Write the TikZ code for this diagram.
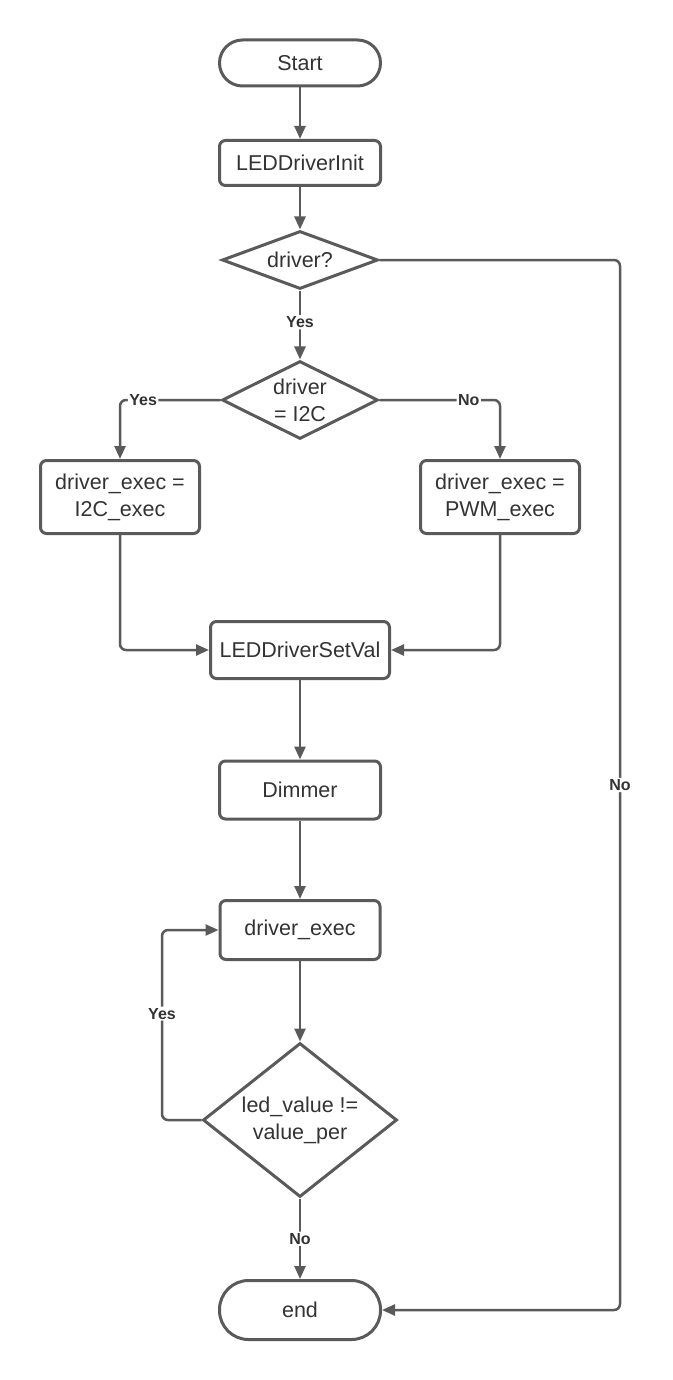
\documentclass[tikz,border=0pt]{standalone}
\usepackage{fontspec}
\setmainfont{Liberation Sans}
\usepackage{tikz}
\usetikzlibrary{calc,positioning,shapes,arrows.meta}
\definecolor{lineclr}{HTML}{5A5A5A}
\definecolor{txtclr}{HTML}{333333}

\begin{document}
\begin{tikzpicture}[x=1pt, y=-1pt,
  term/.style={draw=lineclr, line width=3pt, rounded corners=23pt, text=txtclr, minimum width=161pt, minimum height=46pt, font=\fontsize{21.5}{27}\selectfont},
  blk/.style={draw=lineclr, line width=3pt, rounded corners=6pt, text=txtclr, align=center, font=\fontsize{21.5}{27}\selectfont},
  dec/.style={draw=lineclr, line width=3pt, diamond, inner sep=0pt, text=txtclr, align=center, font=\fontsize{21.5}{27}\selectfont},
  arr/.style={draw=lineclr, line width=2.5pt, rounded corners=6pt, -{Triangle[length=13pt, width=11pt]}},
  lbl/.style={inner sep=1.5pt, fill=white, text=txtclr, font=\fontsize{16}{18}\selectfont\bfseries}]
\useasboundingbox (0,0) rectangle (672,1380);

\node[term] (start) at (300,63){Start};
\node[blk, minimum width=161pt, minimum height=45pt] (init) at (300,163){LEDDriverInit};
\node[dec, aspect=2.7, minimum width=156pt, minimum height=58pt] (drv) at (300,260){driver?};
\node[dec, aspect=2, minimum width=156pt, minimum height=78pt] (isi2c) at (300,400){driver\\= I2C};
\node[blk, minimum width=159pt, minimum height=73pt] (seti2c) at (120,497){driver\_exec =\\I2C\_exec};
\node[blk, minimum width=159pt, minimum height=73pt] (setpwm) at (500,497){driver\_exec =\\PWM\_exec};
\node[blk, minimum width=179pt, minimum height=57pt] (setval) at (300,650){LEDDriverSetVal};
\node[blk, minimum width=161pt, minimum height=58pt] (dim) at (300,790){Dimmer};
\node[blk, minimum width=160pt, minimum height=59pt] (exec) at (300,930){driver\_exec};
\node[dec, aspect=1.26, minimum width=194pt, minimum height=154pt] (cmp) at (300,1120){led\_value !=\\value\_per};
\node[term, minimum height=59pt, rounded corners=29pt] (end) at (300,1310){end};

\foreach \a/\b in {start/init, init/drv, setval/dim, dim/exec, exec/cmp}{
  \draw[arr] (\a) -- (\b);
}
\draw[arr] (drv) -- node[lbl, pos=0.46]{Yes} (isi2c);
\draw[arr] (isi2c.west) -- node[lbl, pos=0.77]{Yes} (seti2c.north |- isi2c.west) -- (seti2c);
\draw[arr] (isi2c.east) -- node[lbl, pos=0.74]{No} (setpwm.north |- isi2c.east) -- (setpwm);
\draw[arr] (seti2c) |- (setval);
\draw[arr] (setpwm) |- (setval);
\draw[arr] (cmp.west) -- (162,1120) -- node[lbl, pos=0.56]{Yes} (162,930) -- (exec);
\draw[arr] (cmp) -- node[lbl, pos=0.5]{No} (end);
\draw[arr] (drv.east) -- (620,260) -- node[lbl, pos=0.5]{No} (620,1310) -- (end);

\end{tikzpicture}
\end{document}
